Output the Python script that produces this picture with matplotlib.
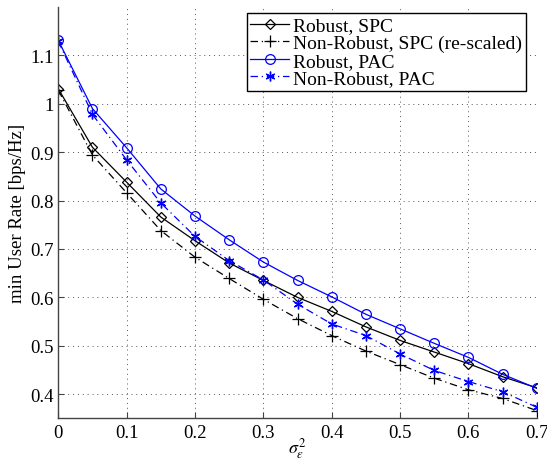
import numpy as np
import matplotlib
matplotlib.use('Agg')
import matplotlib.pyplot as plt

plt.rcParams['font.family'] = ['Liberation Serif', 'DejaVu Serif']
plt.rcParams['mathtext.fontset'] = 'stix'

sigma2 = [0, 0.05, 0.1, 0.15, 0.2, 0.25, 0.3, 0.35, 0.4, 0.45, 0.5, 0.55, 0.6, 0.65, 0.7]

robust_spc = [1.031, 0.910, 0.838, 0.766, 0.717, 0.671, 0.635, 0.600, 0.571, 0.539,
              0.511, 0.487, 0.463, 0.436, 0.413]
nonrobust_spc = [1.028, 0.894, 0.816, 0.738, 0.683, 0.639, 0.596, 0.556, 0.521, 0.489,
                 0.461, 0.433, 0.409, 0.391, 0.366]
robust_pac = [1.131, 0.990, 0.909, 0.824, 0.768, 0.719, 0.673, 0.635, 0.601, 0.565,
              0.535, 0.505, 0.476, 0.441, 0.412]
nonrobust_pac = [1.129, 0.978, 0.884, 0.795, 0.726, 0.676, 0.636, 0.586, 0.545, 0.521,
                 0.483, 0.449, 0.426, 0.405, 0.373]

labels = ['Robust, SPC', 'Non-Robust, SPC (re-scaled)', 'Robust, PAC', 'Non-Robust, PAC']

fig = plt.figure(figsize=(5.47, 4.64), dpi=100)
ax = fig.add_axes([0.1066, 0.0963, 0.8746, 0.8864])

asterisk = (6, 2, 0)

ax.plot(sigma2, robust_spc, '-', color='k', lw=0.9, marker='D', ms=5.5, mfc='none', mew=0.9,
        label=labels[0])
ax.plot(sigma2, nonrobust_spc, '-.', color='k', lw=0.9, marker='+', ms=8, mew=0.9,
        dashes=(6, 3, 1, 3), label=labels[1])
ax.plot(sigma2, robust_pac, '-', color='b', lw=0.9, marker='o', ms=7, mfc='none', mew=0.9,
        label=labels[2])
ax.plot(sigma2, nonrobust_pac, '-.', color='b', lw=0.9, marker=asterisk, ms=7, mew=1.0,
        dashes=(6, 3, 1, 3), label=labels[3])

ax.set_xlim(0, 0.7)
ax.set_ylim(0.35, 1.2)
ax.set_xticks(np.arange(0, 0.71, 0.1))
ax.set_xticklabels(['0', '0.1', '0.2', '0.3', '0.4', '0.5', '0.6', '0.7'])
ax.set_yticks(np.arange(0.4, 1.11, 0.1))
ax.set_yticklabels(['0.4', '0.5', '0.6', '0.7', '0.8', '0.9', '1', '1.1'])
ax.tick_params(direction='in', length=4, labelsize=13.5, color='#444444', width=0.8)
ax.tick_params(axis='x', pad=4)
ax.grid(True, linestyle=(0, (1, 4)), color='#555555', lw=0.7)

ax.spines['top'].set_visible(False)
ax.spines['right'].set_visible(False)
for s in ['left', 'bottom']:
    ax.spines[s].set_color('#444444')
    ax.spines[s].set_linewidth(1.0)

ax.set_ylabel('min User Rate [bps/Hz]', fontsize=13.5, labelpad=3)
ax.set_xlabel(r'$\sigma_\epsilon^2$', fontsize=13, labelpad=-4)

leg = ax.legend(loc='upper right', fontsize=14, fancybox=False, edgecolor='k',
                framealpha=1, handlelength=2.0, handletextpad=0.2, borderpad=0.2,
                labelspacing=0.0, borderaxespad=0.3, bbox_to_anchor=(0.99, 1.0))
leg.get_frame().set_linewidth(1.0)

fig.savefig('out.png', dpi=100)
